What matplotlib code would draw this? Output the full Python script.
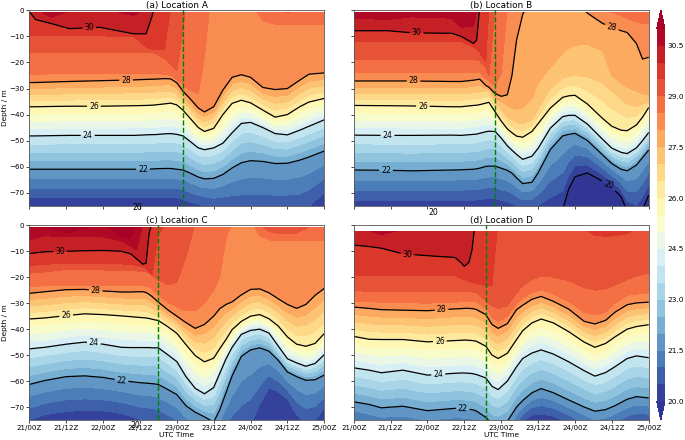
import matplotlib
matplotlib.use('Agg')
import matplotlib.pyplot as plt
import numpy as np
from matplotlib.patches import Rectangle

# hours since 21/00Z, and the depth (m) of each isotherm at that hour.
# depths above 0 mean the isotherm has left the top of the water column
a_times = [0, 2, 7, 13, 23, 34, 38, 40, 41, 44, 46, 48, 50, 52, 55, 57, 60, 63, 66, 69, 72, 76, 80, 84, 88, 91, 96]
a_temps = [18, 20, 20.5, 22, 24, 26, 28, 28.5, 29, 29.5, 30, 30.5, 32]
a_d20 = [-75.5, -75.5, -75.5, -75.5, -75.5, -75.5, -75.5, -75.5, -75.5, -75.5, -75.5, -75.5, -76, -77, -78, -79, -80, -80, -81, -82, -82, -82, -82, -82, -82, -82, -82]
a_d205 = [-72, -72, -72, -72, -72, -72, -72, -72, -72, -72, -72, -72, -72.5, -73.5, -74.5, -75, -76, -76, -76.5, -77, -77, -77, -77, -77, -77, -75.2, -70]
a_d22 = [-61, -61, -61, -61, -61, -61, -60.9, -60.9, -60.8, -60.7, -60.7, -61, -61.3, -62.3, -64, -64.7, -64.5, -63, -60.5, -58.5, -57.7, -58, -58.8, -58.7, -57.5, -56.3, -54]
a_d24 = [-48.2, -48.2, -48.1, -48, -48, -48, -47.8, -47.7, -47.7, -47.4, -47.3, -47.6, -48.2, -50, -52.8, -53.5, -52.8, -51, -47, -43.4, -43, -45, -47.3, -47.8, -46, -44.5, -42]
a_d26 = [-37, -37, -36.9, -36.8, -36.8, -36.6, -36.5, -36.4, -36.3, -35.9, -35.6, -36.3, -38.3, -41, -45, -46.5, -45.3, -40, -35.7, -34.5, -35.5, -38.3, -41, -40, -37, -35.2, -33.8]
a_d28 = [-27.7, -27.7, -27.5, -27.3, -27, -26.7, -26.5, -26.4, -26.4, -26.2, -26.3, -27.8, -31, -33.5, -37.5, -39, -37, -30.6, -25.7, -24.7, -25.7, -29.6, -30.4, -30, -26.8, -24.5, -24]
a_d285 = [-24.5, -24.5, -24.4, -24.4, -24.3, -24.3, -24.3, -24.3, -24.3, -24.5, -25, -26.5, -28.5, -30.5, -32, -18, 16, 4, 4, 4, 3, -4, -5.3, -5.6, -5.6, -5.6, -5.6]
a_d29 = [-16, -16, -16, -16, -16, -16, -16, -16.3, -16.5, -18.5, -20.5, -23, -8, 18, 20, 20, 20, 8, 8, 8, 8, 1, 1, -1, 1, 1, 1]
a_d295 = [-9.7, -9.7, -9.7, -9.8, -9.8, -10, -14, -15, -15, -15.2, 1, 5, 6, 22, 23, 23, 23, 10, 10, 10, 10, 4, 4, 4, 4, 4, 4]
a_d30 = [-0.4, -3.5, -5, -7, -6.5, -9, -9, -2, 3, 3, 4, 7, 8, 24, 25, 25, 25, 12, 12, 12, 12, 6, 6, 6, 6, 6, 6]
a_d305 = [1, 1, -2.7, -0.3, 1, -2, 1, 2, 5, 5, 6, 9, 10, 26, 27, 27, 27, 14, 14, 14, 14, 8, 8, 8, 8, 8, 8]

b_times = [0, 11, 19, 32, 35, 39, 40, 41, 43, 44, 46, 48, 50, 51.5, 53, 55, 58, 60, 64, 68, 70, 72, 76, 81, 84, 87, 89, 92, 94, 96]
b_temps = [18, 20, 22, 24, 26, 27, 27.5, 28, 28.5, 29, 29.5, 30, 30.5, 32]
b_d20 = [-76.8, -76.8, -76.8, -76.8, -76.8, -76.8, -76.8, -76.8, -76.5, -76.5, -76.5, -77, -77.5, -78, -78.5, -79, -79, -79, -78, -76.5, -68.5, -63.9, -62.4, -65.6, -68, -71.5, -77, -80, -76.5, -71]
b_d22 = [-61.3, -61.4, -61.6, -61.3, -61.2, -61, -60.8, -60.6, -59.9, -59.8, -59.8, -60.6, -61.4, -62.5, -64.3, -66.5, -66, -62.4, -53.4, -48.2, -47.6, -47.2, -49.9, -55.5, -58.8, -61, -61.6, -59.4, -56.5, -53.6]
b_d24 = [-47.9, -48, -48, -47.9, -48, -47.6, -47.5, -47.2, -46.6, -46.4, -46.5, -49, -52, -53.7, -55.3, -57.2, -56, -53, -45.2, -40.8, -40.3, -40.3, -43.6, -49.5, -52.9, -54.5, -55, -52.8, -50, -46.9]
b_d26 = [-36.5, -36.6, -36.7, -37, -37, -36.5, -36.4, -36.2, -35.6, -35.3, -38.9, -42.5, -45.5, -47, -48.3, -48.7, -46.5, -43.5, -37.5, -33.4, -32.8, -32.6, -35.9, -41.5, -44.5, -46, -46.2, -44, -41, -37.3]
b_d27 = [-31.8, -31.8, -31.9, -32.1, -32.1, -31.6, -31.4, -31.3, -31, -30.8, -35.5, -38, -41, -42, -43, -43.5, -42, -38, -30, -26, -25.3, -25, -25.5, -28, -31, -34, -36, -37, -36, -35]
b_d275 = [-29.5, -29.5, -29.5, -29.7, -29.7, -29.2, -29, -28.8, -29.9, -30.2, -33.5, -35, -36.5, -37.5, -38, -37.5, -34, -28, -22, -16.5, -14.5, -13.5, -13, -15.5, -25, -28, -29.5, -31, -32, -32.5]
b_d28 = [-27.1, -27.1, -27.1, -27.3, -27.3, -26.8, -26.6, -26.4, -28.8, -29.5, -31.9, -33, -32.4, -25, -11.4, -1.5, 5, 5, 5, 5, 5, 4, -1, -5, -6.5, -7.8, -8.5, -12.7, -18.7, -18]
b_d285 = [-24, -24, -24, -24, -24, -23.8, -23.7, -23.6, -26, -27, -29, -24, 1, 2, 2, 6, 6, 6, 6, 6, 6, 6, 1, 0, -0.7, -2, -3, -4.5, -5, -5]
b_d29 = [-19, -19, -19, -19, -19, -19, -19, -19.3, -22, -25, 1, 3, 3, 3, 3, 7, 7, 7, 7, 7, 7, 7, 2, 1, 1, 1, 1, 1, 1, 1]
b_d295 = [-12, -12, -12, -12, -12, -14, -15, -16, -19.7, 1, 2, 4, 4, 4, 4, 8, 8, 8, 8, 8, 8, 8, 3, 2, 2, 2, 2, 2, 2, 2]
b_d30 = [-7.8, -7.8, -8.6, -8.8, -10, -12.7, -11.4, 1, 2, 2, 3, 5, 5, 5, 5, 9, 9, 9, 9, 9, 9, 9, 4, 3, 3, 3, 3, 3, 3, 3]
b_d305 = [-3, -3.5, -2.5, -3, -6.5, -6, -0.6, 2, 3, 3, 4, 6, 6, 6, 6, 10, 10, 10, 10, 10, 10, 10, 5, 4, 4, 4, 4, 4, 4, 4]

c_times = [0, 5, 12, 18, 24, 30, 33, 35, 37, 38, 39, 40, 42, 45, 48, 51, 54, 57, 60, 62, 64, 66, 69, 72, 75, 78, 81, 84, 87, 90, 93, 96]
c_temps = [18, 20, 20.5, 22, 24, 26, 28, 28.5, 29, 29.5, 30, 30.5, 31, 32]
c_d20 = [-90, -90, -90, -90, -90, -90, -90, -90, -90, -90, -90, -90, -90, -90, -90, -90, -95, -95, -95, -95, -95, -90, -90, -90, -90, -90, -90, -90, -90, -90, -90, -90]
c_d205 = [-75, -73, -71.7, -71.3, -71.5, -72.5, -73.5, -74.5, -75, -75, -75.2, -75.2, -76, -78, -80, -83, -85, -87, -87, -85, -83, -81, -79, -76.5, -69, -62.6, -64, -67, -73, -76, -75, -70.3]
c_d22 = [-61.3, -59.8, -58.3, -58, -58.6, -59.8, -60.2, -60.5, -60.7, -60.8, -60.9, -61, -61.3, -63.2, -65.2, -69.5, -72, -73.8, -75.8, -71, -64.5, -58, -50.5, -48, -47.2, -48.5, -52, -56.5, -58.3, -59.7, -59.5, -57.7]
c_d24 = [-47.6, -47, -45.8, -45, -45.8, -47, -47.1, -47.1, -47.1, -47.1, -47.1, -47.2, -47.2, -49.8, -52.5, -58.3, -62.8, -64.9, -62.5, -57, -51.5, -47, -42, -40.5, -40, -41.5, -46.5, -51.4, -53, -54.3, -53.2, -49.8]
c_d26 = [-36.1, -35.7, -34.8, -34.1, -34.4, -34.9, -35.2, -35.4, -35.6, -35.7, -35.9, -36.2, -36.7, -39, -41.6, -46, -50.2, -52.6, -51.2, -47.5, -44, -40.2, -37, -35, -34.4, -36, -38.8, -43, -45.8, -46.6, -45.5, -41.7]
c_d28 = [-26.2, -25.6, -24.8, -24.7, -25.3, -25.7, -25.7, -25.6, -25.6, -25.9, -26.6, -27.5, -29.6, -32.5, -35, -37.5, -39.7, -38.2, -35, -32.1, -30.5, -29.5, -26.8, -24.7, -24.5, -26, -28.3, -30.5, -32, -30.5, -27, -24.3]
c_d285 = [-23.6, -23.3, -23, -23, -23.2, -23.3, -23.3, -23.3, -23.3, -23.4, -23.6, -24.5, -27, -29.5, -31.5, -33, -33, -30, -25, -20, -5, 1, 3, 2, -4, -5.6, -6, -6, -6, -6, -6, -6]
c_d29 = [-18.5, -18, -17, -17, -17.2, -17.4, -17.5, -17.6, -17.8, -18, -18.5, -19.5, -21, -23, -22, -12, 1, 3, 3, 3, 3, 3, 3, 3, 0.5, -2.4, -3, -3, -3, -1.3, 1, 1]
c_d295 = [-15.5, -15, -14.6, -14.6, -14.7, -14.9, -15, -15.5, -16, -16.5, -18, -20.5, -3, 1, 1, 1, 2, 4, 4, 4, 4, 4, 4, 4, 2, 2, 2, 2, 2, 2, 2, 2]
c_d30 = [-10.9, -10.2, -10, -9.8, -9.7, -10, -11, -13, -15, -14.6, -3, 1, 2, 2, 2, 2, 3, 5, 5, 5, 5, 5, 5, 5, 3, 3, 3, 3, 3, 3, 3, 3]
c_d305 = [-5.6, -4, -4.5, -4.5, -4.5, -6, -8, -9.5, 1, 2, 2, 2, 3, 3, 3, 3, 4, 6, 6, 6, 6, 6, 6, 6, 4, 4, 4, 4, 4, 4, 4, 4]
c_d31 = [1, -0.6, -3, -1, 1, -4.5, -5, 1, 2, 3, 3, 3, 4, 4, 4, 4, 5, 7, 7, 7, 7, 7, 7, 7, 5, 5, 5, 5, 5, 5, 5, 5]

d_times = [0, 5, 9, 16, 24, 33, 35, 36, 37.5, 38.5, 39.2, 40, 43, 45, 47, 50, 53, 55, 58, 61, 65, 70, 75, 78.5, 82, 85, 89, 92, 96]
d_temps = [18, 20, 22, 24, 26, 28, 28.5, 29, 29.5, 30, 30.5, 32]
d_d20 = [-82, -84, -85, -85, -86, -85, -85, -85, -85, -85, -85, -85, -88, -90, -90, -88, -82, -78, -76, -76, -76.5, -79, -82, -85, -84, -82, -80, -79, -79]
d_d22 = [-68, -69, -70.3, -69.7, -71.4, -70.5, -70.6, -70.7, -70.9, -71, -71.2, -71.6, -74, -76.5, -77, -75.5, -70, -67.5, -64.5, -62.9, -64.5, -67.3, -70, -71.6, -71, -69.5, -67, -66, -66.5]
d_d24 = [-54.9, -55.8, -56.8, -55.8, -57.7, -57, -56.9, -56.9, -57, -57.1, -57.3, -57.5, -58.8, -62, -63.3, -60, -54.5, -51.3, -49.2, -48, -49.6, -52.6, -56, -58.1, -56.7, -54.5, -51.3, -50.3, -51]
d_d26 = [-42.8, -43.9, -44, -44, -44.9, -44.4, -44.3, -44.2, -44.3, -44.4, -44.5, -44.7, -46.6, -50, -51.3, -49.3, -44, -40.6, -37.6, -36.1, -37.6, -41, -45, -47, -45.5, -43, -40, -39, -38.3]
d_d28 = [-31.5, -32, -32.5, -32.7, -32.9, -32.2, -32.1, -32, -32, -32.1, -32.2, -32.5, -34.4, -38.2, -39.7, -37.9, -32.5, -30.8, -28.5, -27.4, -29.3, -32.3, -37, -38, -36.6, -33.5, -30.6, -29.9, -29.6]
d_d285 = [-29.3, -29.5, -29.6, -29.8, -30, -29.6, -29.5, -29.4, -29.4, -29.4, -29.5, -29.5, -32, -35.5, -37, -35, -30, -28, -26, -24.8, -26.5, -29.3, -33.5, -34.5, -33.5, -30, -27, -26.5, -26]
d_d29 = [-25.2, -25.4, -25.5, -25.5, -25.7, -25.5, -25.5, -25.5, -25.6, -25.7, -25.8, -26, -29, -31, -32, -31, -26, -23.3, -21, -19.5, -20, -21.3, -24, -25, -24.5, -23, -21, -19.5, -18.4]
d_d295 = [-19.5, -19.5, -19.5, -19.5, -19.5, -19.5, -20.5, -21, -21.5, -22, -22.2, -22.5, -23.3, -23, 2, 2, 2, 2, 2, 2, 2, 2, -1.5, -3.8, -4.3, -4, -3.2, -1.5, 1]
d_d30 = [-7.6, -8.2, -8.8, -11, -11.7, -12.4, -14.5, -15.8, -14.3, -9.5, -2.2, 1, 3, 3, 3, 3, 3, 3, 3, 3, 3, 3, 3, 3, 3, 3, 3, 3, 3]
d_d305 = [1, -2, -3.6, -1.5, 1, 1, 1, 1, 1, 1, 1, 2, 4, 4, 4, 4, 4, 4, 4, 4, 4, 4, 4, 4, 4, 4, 4, 4, 4]

a_rows = [a_d20, a_d205, a_d22, a_d24, a_d26, a_d28, a_d285, a_d29, a_d295, a_d30, a_d305]
b_rows = [b_d20, b_d22, b_d24, b_d26, b_d27, b_d275, b_d28, b_d285, b_d29, b_d295, b_d30, b_d305]
c_rows = [c_d20, c_d205, c_d22, c_d24, c_d26, c_d28, c_d285, c_d29, c_d295, c_d30, c_d305, c_d31]
d_rows = [d_d20, d_d22, d_d24, d_d26, d_d28, d_d285, d_d29, d_d295, d_d30, d_d305]

front_times = [49.9, 46.1, 42, 43]
titles = ['(a) Location A', '(b) Location B', '(c) Location C', '(d) Location D']
top_depths = [-0.5, -0.5, -0.5, -2.2]
time_ticks = [0, 12, 24, 36, 48, 60, 72, 84, 96]
time_labels = ['21/00Z', '21/12Z', '22/00Z', '22/12Z', '23/00Z', '23/12Z', '24/00Z', '24/12Z', '25/00Z']
depth_ticks = [0, -10, -20, -30, -40, -50, -60, -70]
cbar_ticks = [20, 21.5, 23, 24.5, 26, 27.5, 29, 30.5]
levels = np.arange(20, 31.5, 0.5)
line_levels = [20, 22, 24, 26, 28, 30]

# where the contour labels sit, (hour, depth)
a_labels = [(19.5, -6.5), (31.5, -27), (21, -36.8), (19, -48), (37, -61)]
b_labels = [(20.5, -8.6), (19.5, -27.1), (22.5, -36.8), (11, -48), (10.5, -61.4), (84, -6.5), (83, -67)]
c_labels = [(10, -10), (21.6, -25), (12, -34.8), (21, -45.5), (30, -60)]
d_labels = [(17.5, -11.3), (28.6, -32.7), (28, -44.7), (27.5, -57.5), (35.5, -71)]
# the labels of the 20 line that fell outside the axes
stray_labels = [(35, -75.8), (26, -77.5), (34.4, -77.3), None]


def px_axes(fig, left, top, right, bottom):
    return fig.add_axes([left/685, 1-bottom/440, (right-left)/685, (bottom-top)/440])


def draw_panel(ax, times, temps, rows, labels, i):
    depths = np.full((len(temps), len(times)), 0.0)
    depths[0] = -110
    depths[-1] = 60
    depths[1:-1] = np.array(rows, dtype=float)
    # keep the isotherms stacked where they run above the surface
    for k in range(1, len(temps)):
        depths[k] = np.maximum(depths[k], depths[k-1]+0.5)
    hours = np.tile(times, (len(temps), 1))
    temp = np.tile(np.array(temps)[:, None], (1, len(times)))

    clip = Rectangle((0, -75), 96, 75+top_depths[i], transform=ax.transData)
    cf = ax.contourf(hours, depths, temp, levels=levels, cmap='RdYlBu_r', extend='both')
    cf.set_clip_path(clip)
    cs = ax.contour(hours, depths, temp, levels=line_levels, colors='k', linewidths=0.9)
    cs.set_clip_path(clip)
    ax.clabel(cs, manual=labels, fmt='%d', fontsize=5.6, inline_spacing=2)
    ax.axvline(front_times[i], color='green', ls='--', lw=1)

    if stray_labels[i] is not None:
        ax.text(stray_labels[i][0], stray_labels[i][1], '20', fontsize=5.6, ha='center',
                va='center', clip_on=False)

    ax.set_xlim(0, 96)
    ax.set_ylim(-75, 0)
    ax.set_xticks(time_ticks)
    ax.set_yticks(depth_ticks)
    ax.set_title(titles[i], fontsize=6.4, pad=1)
    ax.tick_params(labelsize=5.1, length=2, width=0.5, pad=1.5)
    for s in ax.spines.values():
        s.set_linewidth(0.6)
        s.set_color('#555555')
    if i >= 2:
        ax.set_xticklabels(time_labels)
        ax.set_xlabel('UTC Time', fontsize=5.3, labelpad=1)
    else:
        ax.set_xticklabels([])
    if i % 2 == 0:
        ax.set_ylabel('Depth / m', fontsize=5.3, labelpad=1)
    else:
        ax.set_yticklabels([])
    return cf


fig = plt.figure(figsize=(6.85, 4.4), dpi=100)
ax_a = px_axes(fig, 29.3, 10.4, 324.3, 205.7)
ax_b = px_axes(fig, 353.7, 10.4, 648.7, 205.7)
ax_c = px_axes(fig, 29.3, 225.3, 324.3, 420)
ax_d = px_axes(fig, 353.7, 225.3, 648.7, 420)

cf = draw_panel(ax_a, a_times, a_temps, a_rows, a_labels, 0)
draw_panel(ax_b, b_times, b_temps, b_rows, b_labels, 1)
draw_panel(ax_c, c_times, c_temps, c_rows, c_labels, 2)
draw_panel(ax_d, d_times, d_temps, d_rows, d_labels, 3)

# the colorbar shrinks its axes to make room for the two triangles
cax = px_axes(fig, 656.7, 10, 665, 420)
cb = fig.colorbar(cf, cax=cax, ticks=cbar_ticks, format='%.1f')
cb.ax.tick_params(labelsize=5.3, length=0, pad=1.5)
cb.outline.set_linewidth(0)

fig.savefig('out.png', dpi=100)
